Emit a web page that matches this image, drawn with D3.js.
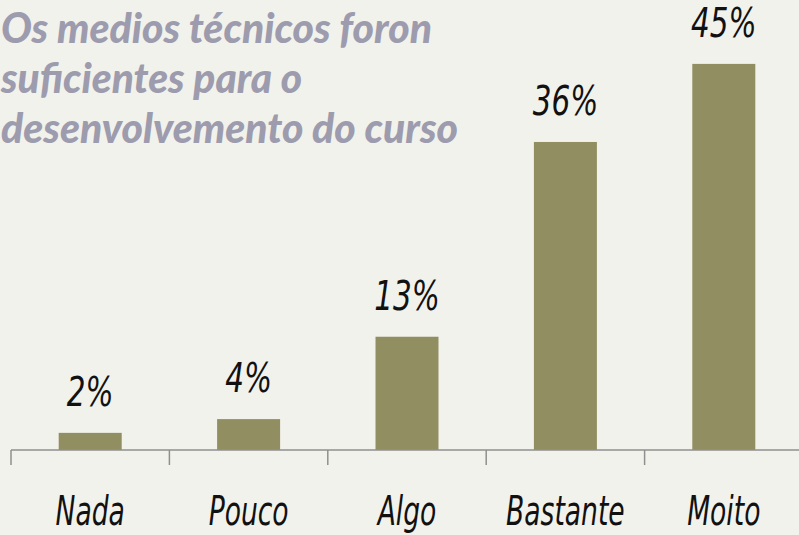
<!DOCTYPE html>
<html>
<head>
<meta charset="utf-8">
<script src="https://cdn.jsdelivr.net/npm/d3@7"></script>
<style>
	body { margin: 0; background: #f2f2ec; }
	svg { display: block; }
	.title { font-family: Lato, "Open Sans", sans-serif; font-weight: 900; font-style: italic; fill: #9d9cae; }
	.hand { font-family: "DejaVu Sans Condensed", "DejaVu Sans", sans-serif; font-style: italic; fill: #111; }
</style>
</head>
<body>
<div class="chart"></div>
<script>
var categories = ["Nada", "Pouco", "Algo", "Bastante", "Moito"];
var values = [2, 3.6, 13.2, 35.9, 45];
var valueLabels = ["2%", "4%", "13%", "36%", "45%"];
var titleLines = ["Os medios técnicos foron", "suficientes para o", "desenvolvemento do curso"];

var width = 799, height = 535;

var svg = d3.select(".chart").append("svg")
	.attr("width", width)
	.attr("height", height);

svg.append("rect")
	.attr("width", width)
	.attr("height", height)
	.attr("fill", "#f2f2ec");

//band scale runs a bit past the right edge, like the original
var x = d3.scaleBand()
	.domain(categories)
	.range([11, 803])
	.paddingInner(0)
	.paddingOuter(0);

var y = d3.scaleLinear()
	.domain([0, 50])
	.range([450, 21]);

var barW = 63;

function cx(c) { return x(c) + x.bandwidth()/2 }

svg.append("g").selectAll("rect")
	.data(values)
	.enter().append("rect")
	.attr("x", function(d, i){ return cx(categories[i]) - barW/2 })
	.attr("y", function(d){ return y(d) })
	.attr("width", barW)
	.attr("height", function(d){ return y(0) - y(d) })
	.attr("fill", "#918e62");

//axis line + ticks at band edges
var axis = svg.append("g").attr("stroke", "#8f8f8f").attr("stroke-width", 1.5);
axis.append("line")
	.attr("x1", x.range()[0]).attr("x2", width)
	.attr("y1", y(0)).attr("y2", y(0));
var edges = categories.map(function(c){ return x(c) });
edges.push(x.range()[1]);
axis.selectAll(".tick")
	.data(edges)
	.enter().append("line")
	.attr("x1", function(d){ return d }).attr("x2", function(d){ return d })
	.attr("y1", y(0)).attr("y2", y(0) + 15);

//labels are squeezed sideways to look like the narrow handwriting font
svg.append("g").selectAll("text")
	.data(valueLabels)
	.enter().append("text")
	.attr("class", "hand")
	.attr("transform", function(d, i){ return "translate(" + cx(categories[i]) + "," + (y(values[i]) - 27) + ") scale(0.82,1)" })
	.attr("text-anchor", "middle")
	.attr("font-size", 40)
	.text(function(d){ return d });

svg.append("g").selectAll("text")
	.data(categories)
	.enter().append("text")
	.attr("class", "hand")
	.attr("transform", function(d){ return "translate(" + cx(d) + ",525) scale(0.72,1)" })
	.attr("text-anchor", "middle")
	.attr("font-size", 41)
	.text(function(d){ return d });

var titleEnds = [432, 302, 458];
svg.append("g").selectAll("text")
	.data(titleLines)
	.enter().append("text")
	.attr("class", "title")
	.attr("x", 1)
	.attr("y", function(d, i){ return 43 + i*50 })
	.attr("font-size", 42)
	.attr("textLength", function(d, i){ return titleEnds[i] - 1 })
	.attr("lengthAdjust", "spacingAndGlyphs")
	.text(function(d){ return d });
</script>
</body>
</html>
